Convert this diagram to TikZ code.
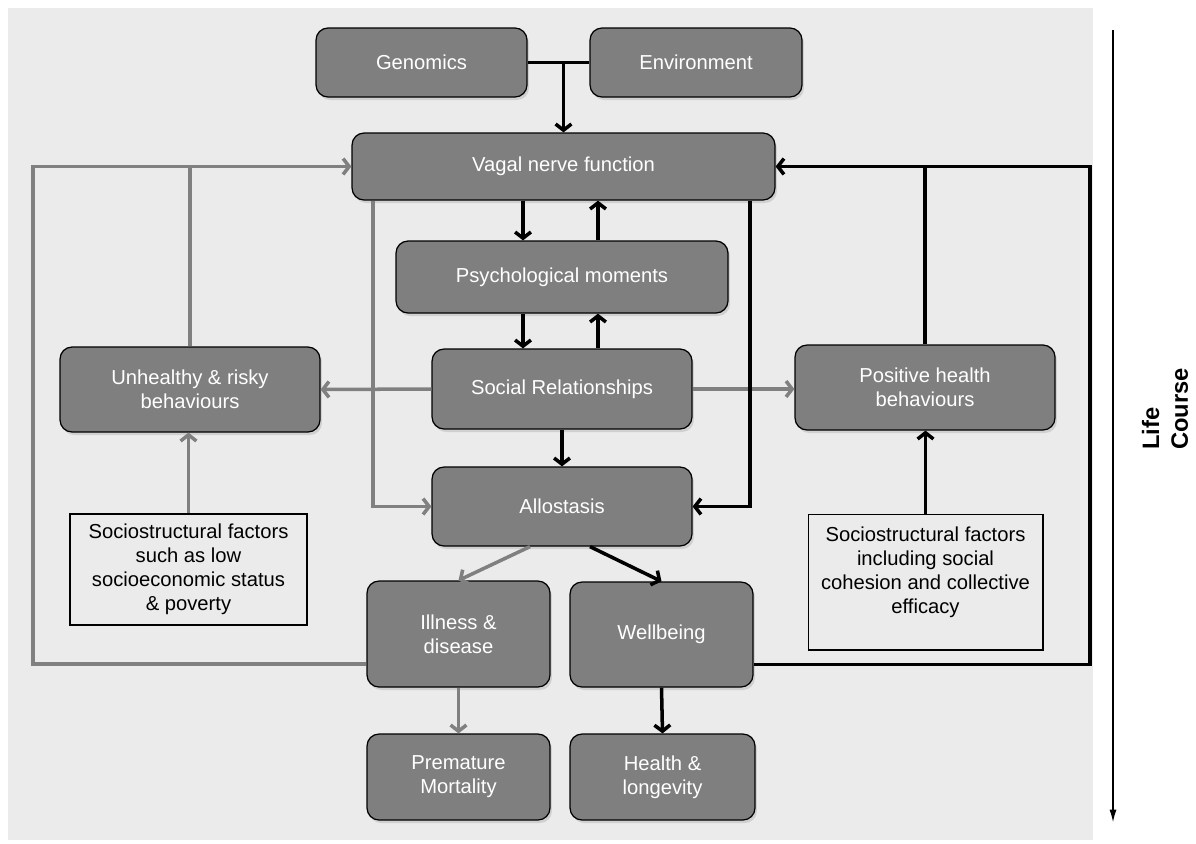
\documentclass[tikz,border=0pt]{standalone}
\usepackage{fontspec}
\setmainfont{Liberation Sans}
\usetikzlibrary{positioning, arrows.meta, shadows}

\definecolor{panelGray}{RGB}{235,235,235}
\definecolor{boxGray}{RGB}{127,127,127}
\definecolor{lineGray}{RGB}{128,128,128}

\tikzset{
	darkBox/.style={draw=black, line width=0.7pt, fill=boxGray, rounded corners=0.24cm,
		text=white, align=center, inner sep=0pt, font=\fontsize{11.5}{13.8}\selectfont,
		drop shadow={opacity=0.25, shadow xshift=0.04cm, shadow yshift=-0.06cm}},
	factorBox/.style={draw=black, line width=0.6pt, fill=panelGray, align=center,
		inner sep=0pt, font=\fontsize{11.5}{13.6}\selectfont},
	blackLink/.style={draw=black, line width=2pt},
	grayLink/.style={draw=lineGray, line width=2pt},
	barb/.style={-{Straight Barb[length=3.5pt,width=9pt]}}
}

\begin{document}
\begin{tikzpicture}[x=0.02cm, y=-0.02cm]
	
	\useasboundingbox (0,0) rectangle (1196,843);
	\fill[panelGray] (8,8) rectangle (1093,840);
	
	%Genomics and environment
	\node (genomics) at (421.5,62.5) [darkBox, minimum width=4.22cm, minimum height=1.38cm]{Genomics};
	\node (environment) at (696,62.5) [darkBox, minimum width=4.24cm, minimum height=1.38cm]{Environment};
	
	%Vagal nerve function
	\node (vagalNerve) at (563.5,166.5) [darkBox, minimum width=8.46cm, minimum height=1.34cm]{Vagal nerve function};
	
	%Psychological moments
	\node (psychMoments) at (562,277) [darkBox, minimum width=6.64cm, minimum height=1.44cm]{Psychological moments};
	
	%Social relationships
	\node (socialRel) at (562,389) [darkBox, minimum width=5.2cm, minimum height=1.6cm]{Social Relationships};
	
	%Allostasis
	\node (allostasis) at (562,506.5) [darkBox, minimum width=5.2cm, minimum height=1.58cm]{Allostasis};
	
	%Behaviours
	\node (unhealthyBehav) at (190,389.5) [darkBox, minimum width=5.2cm, minimum height=1.7cm]{Unhealthy \& risky\\ behaviours};
	\node (positiveBehav) at (925,387.5) [darkBox, minimum width=5.2cm, minimum height=1.7cm]{Positive health\\ behaviours};
	
	%Sociostructural factors
	\node (lowSES) at (188.5,569.5) [factorBox, minimum width=4.74cm, minimum height=2.22cm]{Sociostructural factors\\ such as low\\ socioeconomic status\\ \& poverty};
	\node (cohesion) at (925.5,582) [factorBox, minimum width=4.7cm, minimum height=2.72cm]{Sociostructural factors\\ including social\\ cohesion and collective\\ efficacy\\ ~};
	
	%Outcomes
	\node (illness) at (458.5,634) [darkBox, minimum width=3.66cm, minimum height=2.12cm]{Illness \&\\ disease};
	\node (wellbeing) at (661.5,634.5) [darkBox, minimum width=3.66cm, minimum height=2.1cm]{Wellbeing};
	\node (premature) at (458.5,777) [darkBox, minimum width=3.66cm, minimum height=1.72cm]{Premature\\ Mortality};
	\node (health) at (662.5,777) [darkBox, minimum width=3.7cm, minimum height=1.72cm]{Health \&\\ longevity};
	
	%Life course
	\node (lifeCourse) at (1165,409) [rotate=90, align=left, font=\bfseries\fontsize{13.5}{16.5}\selectfont]{Life\\ Course};
	\coordinate (lcTop) at (1113,30);
	\coordinate (lcBot) at (1113,822);
	\draw[line width=0.6pt, -{Latex[length=7pt,width=4pt]}] (lcTop) -- (lcBot);
	
	%Columns for the links
	\coordinate (colL) at (523,0);
	\coordinate (colR) at (598,0);
	\coordinate (colVL) at (373,0);
	\coordinate (colVR) at (750,0);
	\coordinate (loopL) at (33,0);
	\coordinate (loopR) at (1090,0);
	
	%Links
	\draw[blackLink] (genomics.east) -- (environment.west);
	\draw[blackLink, barb] (vagalNerve.north |- genomics.east) -- (vagalNerve.north);
	\draw[blackLink, barb] (vagalNerve.south -| colL) -- (psychMoments.north -| colL);
	\draw[blackLink, barb] (psychMoments.north -| colR) -- (vagalNerve.south -| colR);
	\draw[blackLink, barb] (psychMoments.south -| colL) -- (socialRel.north -| colL);
	\draw[blackLink, barb] (socialRel.north -| colR) -- (psychMoments.south -| colR);
	\draw[blackLink, barb] (socialRel.south) -- (allostasis.north);
	\draw[grayLink, barb] (socialRel.west) -- (unhealthyBehav.east);
	\draw[grayLink, barb] (socialRel.east) -- (socialRel.east -| positiveBehav.west);
	\draw[grayLink, barb] (vagalNerve.south -| colVL) |- (allostasis.west);
	\draw[blackLink, barb] (vagalNerve.south -| colVR) |- (allostasis.east);
	
	\draw[grayLink, barb] (lowSES.north) -- (lowSES.north |- unhealthyBehav.south);
	\draw[blackLink, barb] (cohesion.north) -- (cohesion.north |- positiveBehav.south);
	\draw[grayLink] (unhealthyBehav.north) -- (unhealthyBehav.north |- vagalNerve.west);
	\draw[blackLink] (positiveBehav.north) -- (positiveBehav.north |- vagalNerve.east);
	
	%Feedback loops
	\draw[grayLink, barb] ([yshift=-0.6cm]illness.west) -| (loopL |- vagalNerve.west) -- (vagalNerve.west);
	\draw[blackLink, barb] ([yshift=-0.6cm]wellbeing.east) -| (loopR |- vagalNerve.east) -- (vagalNerve.east);
	
	%Outcome links
	\draw[grayLink, barb] ([xshift=-0.64cm]allostasis.south) -- (illness.north);
	\draw[blackLink, barb] ([xshift=0.56cm]allostasis.south) -- (wellbeing.north);
	\draw[grayLink, barb] (illness.south) -- (premature.north);
	\draw[blackLink, barb] (wellbeing.south) -- (health.north);
	
\end{tikzpicture}
\end{document}
